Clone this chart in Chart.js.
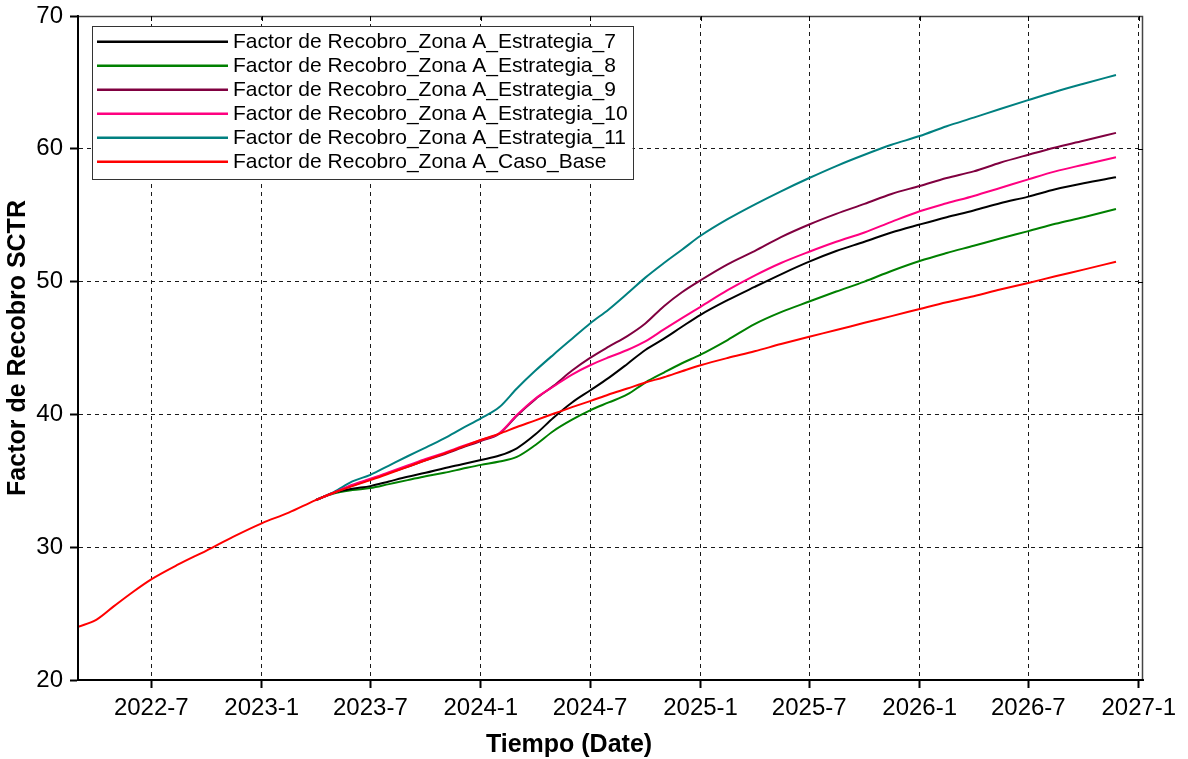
<!DOCTYPE html>
<html>
<head>
<meta charset="utf-8">
<script src="https://cdn.jsdelivr.net/npm/chart.js@4.4.1/dist/chart.umd.min.js"></script>
<style>
html,body{margin:0;padding:0;background:#fff;}
#wrap{width:1188px;height:759px;position:relative;}
</style>
</head>
<body>
<div id="wrap"><canvas id="c"></canvas></div>
<script>
// ---- Data ----
const dates = [
  "2022-03-01","2022-04-01","2022-05-01","2022-06-01","2022-07-01","2022-08-15","2022-10-01","2022-11-15",
  "2023-01-01","2023-02-15","2023-04-01","2023-05-01","2023-06-01","2023-07-01","2023-08-01","2023-09-01",
  "2023-10-01","2023-11-01","2023-12-01","2024-01-01","2024-02-01","2024-03-01","2024-04-01","2024-05-01",
  "2024-06-01","2024-07-01","2024-08-01","2024-09-01","2024-10-01","2024-11-01","2024-12-01","2025-01-01",
  "2025-02-15","2025-04-01","2025-05-15","2025-07-01","2025-08-15","2025-10-01","2025-11-15","2026-01-01",
  "2026-02-15","2026-04-01","2026-05-15","2026-07-01","2026-08-15","2026-10-01","2026-11-24"
];

const estrategia7 = [
  null,null,null,null,null,null,null,null,null,null,
  33.55,34.1,34.4,34.6,34.95,35.3,35.6,35.95,36.25,36.57,36.9,37.45,38.5,39.75,40.9,41.8,42.75,43.8,44.85,45.7,
  46.6,47.5,48.6,49.6,50.55,51.5,52.3,53.0,53.7,54.3,54.85,55.35,55.9,56.4,56.95,57.4,57.85
];
const estrategia8 = [
  null,null,null,null,null,null,null,null,null,null,
  33.55,34.05,34.3,34.45,34.75,35.05,35.35,35.6,35.9,36.2,36.45,36.8,37.7,38.75,39.6,40.3,40.9,41.5,42.4,43.15,
  43.85,44.5,45.6,46.8,47.7,48.5,49.25,50.0,50.8,51.55,52.15,52.7,53.25,53.8,54.35,54.85,55.47
];
const estrategia9 = [
  null,null,null,null,null,null,null,null,null,null,
  33.55,34.1,34.65,35.1,35.6,36.05,36.55,37.0,37.5,38.0,38.55,39.9,41.15,42.15,43.3,44.25,45.1,45.9,46.85,48.15,
  49.2,50.1,51.3,52.3,53.35,54.3,55.1,55.85,56.6,57.2,57.8,58.3,58.95,59.55,60.1,60.6,61.2
];
const estrategia10 = [
  null,null,null,null,null,null,null,null,null,null,
  33.55,34.1,34.7,35.15,35.65,36.15,36.65,37.1,37.6,38.07,38.6,39.95,41.2,42.1,43.0,43.7,44.3,44.85,45.5,46.4,
  47.25,48.1,49.35,50.45,51.4,52.25,53.0,53.7,54.5,55.3,55.9,56.45,57.05,57.7,58.3,58.8,59.36
];
const estrategia11 = [
  null,null,null,null,null,null,null,null,null,null,
  33.55,34.15,34.95,35.45,36.15,36.85,37.5,38.2,38.95,39.7,40.55,41.95,43.3,44.5,45.7,46.85,47.9,49.1,50.3,51.4,
  52.4,53.45,54.7,55.8,56.8,57.8,58.7,59.55,60.3,60.96,61.7,62.35,63.0,63.67,64.3,64.9,65.56
];
const casoBase = [
  24.0,24.55,25.6,26.65,27.58,28.7,29.75,30.8,31.8,32.6,
  33.55,34.1,34.6,35.05,35.55,36.05,36.55,37.05,37.55,38.07,38.55,39.05,39.55,40.05,40.55,41.0,41.5,41.95,42.4,42.8,
  43.25,43.7,44.25,44.75,45.3,45.85,46.35,46.9,47.4,47.94,48.45,48.9,49.4,49.9,50.4,50.9,51.5
];

const seriesLabels = [
  "Factor de Recobro_Zona A_Estrategia_7",
  "Factor de Recobro_Zona A_Estrategia_8",
  "Factor de Recobro_Zona A_Estrategia_9",
  "Factor de Recobro_Zona A_Estrategia_10",
  "Factor de Recobro_Zona A_Estrategia_11",
  "Factor de Recobro_Zona A_Caso_Base"
];
const seriesColors = ["#000000","#008000","#800040","#ff0080","#008080","#ff0000"];
const seriesOrder = [5,6,3,2,4,1];

const xTickDates = ["2022-07-01","2023-01-01","2023-07-01","2024-01-01","2024-07-01",
                    "2025-01-01","2025-07-01","2026-01-01","2026-07-01","2027-01-01"];
const xTickLabels = ["2022-7","2023-1","2023-7","2024-1","2024-7","2025-1","2025-7","2026-1","2026-7","2027-1"];
const xRange = ["2022-03-01","2027-01-08"];
const yMin = 20, yMax = 70, yStep = 10;

const xTitle = "Tiempo (Date)";
const yTitle = "Factor de Recobro SCTR";

// ---- Build ----
const ts = d => new Date(d + "T00:00:00Z").getTime();
const FAMILY = '"Liberation Sans", Arial, Helvetica, sans-serif';
const allSeries = [estrategia7, estrategia8, estrategia9, estrategia10, estrategia11, casoBase];

const datasets = allSeries.map((vals, i) => ({
  label: seriesLabels[i],
  data: dates.map((d, j) => ({x: ts(d), y: vals[j]})),
  borderColor: seriesColors[i],
  backgroundColor: seriesColors[i],
  borderWidth: 2,
  pointRadius: 0,
  fill: false,
  cubicInterpolationMode: 'monotone',
  spanGaps: false,
  order: seriesOrder[i]
}));

const framePlugin = {
  id: 'frameAndLegend',
  afterDatasetsDraw(chart) {
    const {ctx, chartArea: ca, scales} = chart;
    ctx.save();
    ctx.setLineDash([]);
    // frame on top & right
    ctx.strokeStyle = '#444';
    ctx.lineWidth = 1.5;
    ctx.beginPath();
    ctx.moveTo(ca.left, ca.top + 0.5);
    ctx.lineTo(ca.right - 0.5, ca.top + 0.5);
    ctx.lineTo(ca.right - 0.5, ca.bottom);
    ctx.stroke();
    // solid axis lines left & bottom
    ctx.strokeStyle = '#000';
    ctx.lineWidth = 2;
    ctx.beginPath();
    ctx.moveTo(ca.left, ca.top);
    ctx.lineTo(ca.left, ca.bottom);
    ctx.lineTo(ca.right, ca.bottom);
    ctx.stroke();
    // small inner ticks on top and right edges
    ctx.lineWidth = 1;
    ctx.beginPath();
    scales.x.ticks.forEach(t => {
      const px = Math.round(scales.x.getPixelForValue(t.value)) + 0.5;
      if (px > ca.left + 2 && px < ca.right - 2) { ctx.moveTo(px, ca.top); ctx.lineTo(px, ca.top + 5); }
    });
    scales.y.ticks.forEach(t => {
      const py = Math.round(scales.y.getPixelForValue(t.value)) + 0.5;
      if (py > ca.top + 2 && py < ca.bottom - 2) { ctx.moveTo(ca.right, py); ctx.lineTo(ca.right - 5, py); }
    });
    ctx.stroke();

    // x axis title (placed as in the reference)
    ctx.fillStyle = '#000';
    ctx.font = 'bold 25px ' + FAMILY;
    ctx.textAlign = 'center';
    ctx.textBaseline = 'middle';
    ctx.fillText(xTitle, ca.left + 491, 745);

    // legend box
    ctx.font = '21px ' + FAMILY;
    const dsList = chart.data.datasets;
    let maxW = 0;
    dsList.forEach(ds => { maxW = Math.max(maxW, ctx.measureText(ds.label).width); });
    const x0 = ca.left + 14, y0 = ca.top + 10;
    const lineLen = 131, rowH = 24, padTop = 15.7;
    const w = 5 + lineLen + 5 + maxW + 5;
    const h = rowH * dsList.length + 9;
    ctx.fillStyle = '#fff';
    ctx.fillRect(x0, y0, w, h);
    ctx.strokeStyle = '#333';
    ctx.lineWidth = 1;
    ctx.strokeRect(Math.round(x0) + 0.5, Math.round(y0) + 0.5, Math.round(w), Math.round(h));
    ctx.textBaseline = 'middle';
    ctx.textAlign = 'left';
    dsList.forEach((ds, i) => {
      const cy = y0 + padTop + rowH * i;
      ctx.strokeStyle = ds.borderColor;
      ctx.lineWidth = 2.5;
      ctx.beginPath();
      ctx.moveTo(x0 + 5, cy);
      ctx.lineTo(x0 + 5 + lineLen, cy);
      ctx.stroke();
      ctx.fillStyle = '#000';
      ctx.fillText(ds.label, x0 + 5 + lineLen + 5, cy + 1);
    });
    ctx.restore();
  }
};

const gridOpts = {
  color: '#1a1a1a',
  lineWidth: 1,
  drawTicks: true,
  tickLength: 8,
  tickColor: '#000',
  tickWidth: 2,
  tickBorderDash: []
};
const borderOpts = { display: true, color: '#000', width: 2, dash: [4, 4] };

new Chart(document.getElementById('c'), {
  type: 'line',
  data: { datasets },
  options: {
    responsive: true,
    maintainAspectRatio: false,
    animation: false,
    devicePixelRatio: 1,
    layout: { padding: { left: 0, top: 16, right: 45, bottom: 0 } },
    plugins: {
      legend: { display: false },
      tooltip: { enabled: false }
    },
    scales: {
      x: {
        type: 'linear',
        min: ts(xRange[0]),
        max: ts(xRange[1]),
        afterBuildTicks: s => { s.ticks = xTickDates.map(d => ({ value: ts(d) })); },
        ticks: {
          callback: (v, i) => xTickLabels[i],
          font: { family: FAMILY, size: 24 },
          color: '#000',
          padding: 6,
          maxRotation: 0,
          autoSkip: false
        },
        grid: gridOpts,
        border: borderOpts,
        title: { display: false },
        afterFit: s => { s.height = 79; s.paddingLeft = 0; s.paddingRight = 0; }
      },
      y: {
        min: yMin, max: yMax,
        ticks: {
          stepSize: yStep,
          font: { family: FAMILY, size: 24 },
          color: '#000',
          padding: 7
        },
        grid: gridOpts,
        border: borderOpts,
        title: {
          display: true, text: yTitle, color: '#000',
          font: { family: FAMILY, size: 25, weight: 'bold', lineHeight: 1.2 },
          padding: { top: 3, bottom: 0 }
        },
        afterFit: s => { s.width = 78; s.paddingTop = 0; s.paddingBottom = 0; }
      }
    }
  },
  plugins: [framePlugin]
});
</script>
</body>
</html>
